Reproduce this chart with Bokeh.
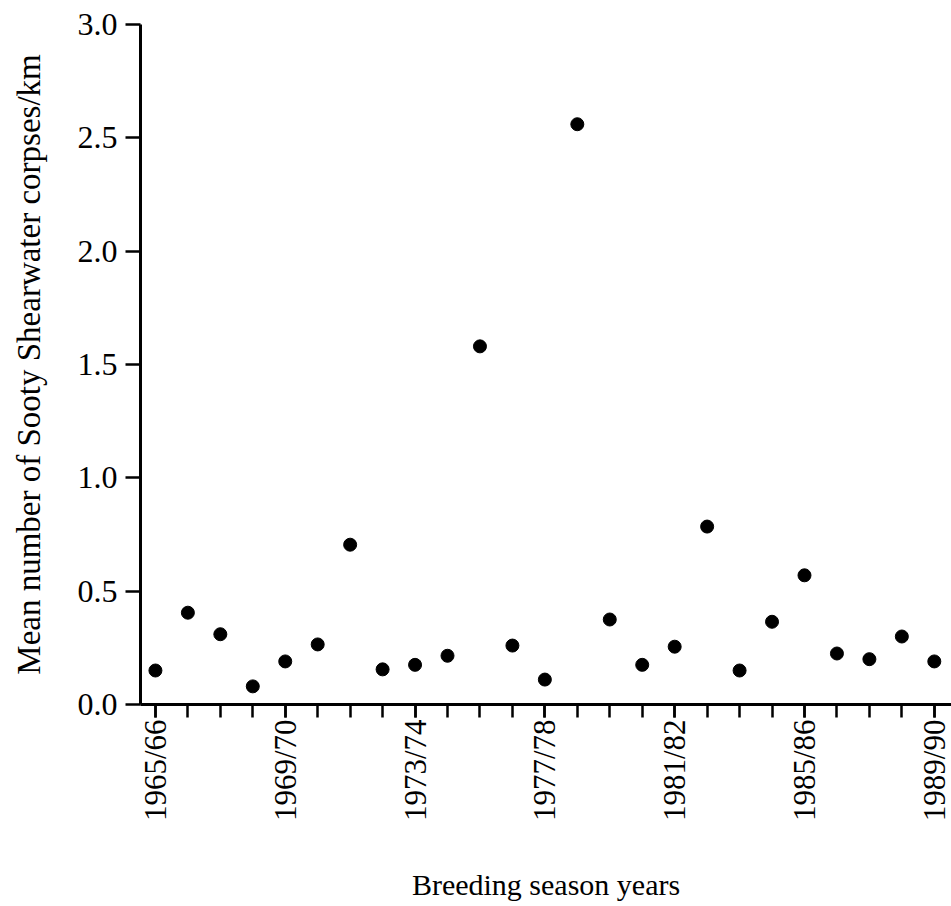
import math
from bokeh.plotting import figure
from bokeh.models import FixedTicker, Range1d, ColumnDataSource, CustomJSTickFormatter
from bokeh.embed import file_html
from bokeh.resources import INLINE

# --- data -------------------------------------------------------------
season_start = [1965, 1966, 1967, 1968, 1969, 1970, 1971, 1972, 1973, 1974,
                1975, 1976, 1977, 1978, 1979, 1980, 1981, 1982, 1983, 1984,
                1985, 1986, 1987, 1988, 1989]
corpses_per_km = [0.15, 0.405, 0.31, 0.08, 0.19, 0.265, 0.705, 0.155, 0.175, 0.215,
                  1.58, 0.26, 0.11, 2.56, 0.375, 0.175, 0.255, 0.785, 0.15, 0.365,
                  0.57, 0.225, 0.20, 0.30, 0.19]
labelled_seasons = [1965, 1969, 1973, 1977, 1981, 1985, 1989]
y_ticks = [0.0, 0.5, 1.0, 1.5, 2.0, 2.5, 3.0]

FONT = "Liberation Serif"

p = figure(width=951, height=904, output_backend="svg", toolbar_location=None,
           x_range=Range1d(1964.54, 1989.53), y_range=Range1d(0, 3.0),
           min_border_left=140, min_border_right=0, min_border_top=24,
           min_border_bottom=196)
p.outline_line_color = None
p.xgrid.visible = False
p.ygrid.visible = False
p.background_fill_color = "white"
p.border_fill_color = "white"

src = ColumnDataSource(dict(x=season_start, y=corpses_per_km))
p.scatter("x", "y", source=src, size=13, color="black")

# x axis
xa = p.xaxis[0]
xa.ticker = FixedTicker(ticks=labelled_seasons, minor_ticks=season_start)
xa.formatter = CustomJSTickFormatter(code="""
  const a = String(tick); const b = String((tick + 1) % 100).padStart(2, '0');
  return a + '/' + b;""")
xa.major_label_orientation = math.pi / 2
xa.major_label_text_font = FONT
xa.major_label_text_font_size = "31px"
xa.major_label_text_color = "black"
xa.major_label_standoff = 2
xa.major_tick_in = 0
xa.major_tick_out = 13
xa.minor_tick_in = 0
xa.minor_tick_out = 13
xa.major_tick_line_width = 2.5
xa.minor_tick_line_width = 2.5
xa.axis_line_width = 3
xa.axis_line_color = "black"
xa.major_tick_line_color = "black"
xa.minor_tick_line_color = "black"
xa.axis_label = "Breeding season years"
xa.axis_label_text_font = FONT
xa.axis_label_text_font_size = "30px"
xa.axis_label_text_font_style = "normal"
xa.axis_label_text_color = "black"
xa.axis_label_standoff = 44

# y axis
ya = p.yaxis[0]
ya.ticker = FixedTicker(ticks=y_ticks, minor_ticks=[])
ya.formatter = CustomJSTickFormatter(code="return tick.toFixed(1);")
ya.major_label_text_font = FONT
ya.major_label_text_font_size = "32px"
ya.major_label_text_color = "black"
ya.major_label_standoff = 8
ya.major_tick_in = 0
ya.major_tick_out = 15
ya.major_tick_line_width = 2.5
ya.axis_line_width = 3
ya.axis_line_color = "black"
ya.major_tick_line_color = "black"
ya.axis_label = "Mean number of Sooty Shearwater corpses/km"
ya.axis_label_text_font = FONT
ya.axis_label_text_font_size = "33px"
ya.axis_label_text_font_style = "normal"
ya.axis_label_text_color = "black"
ya.axis_label_standoff = 28

open("out.html", "w").write(file_html(p, INLINE))
